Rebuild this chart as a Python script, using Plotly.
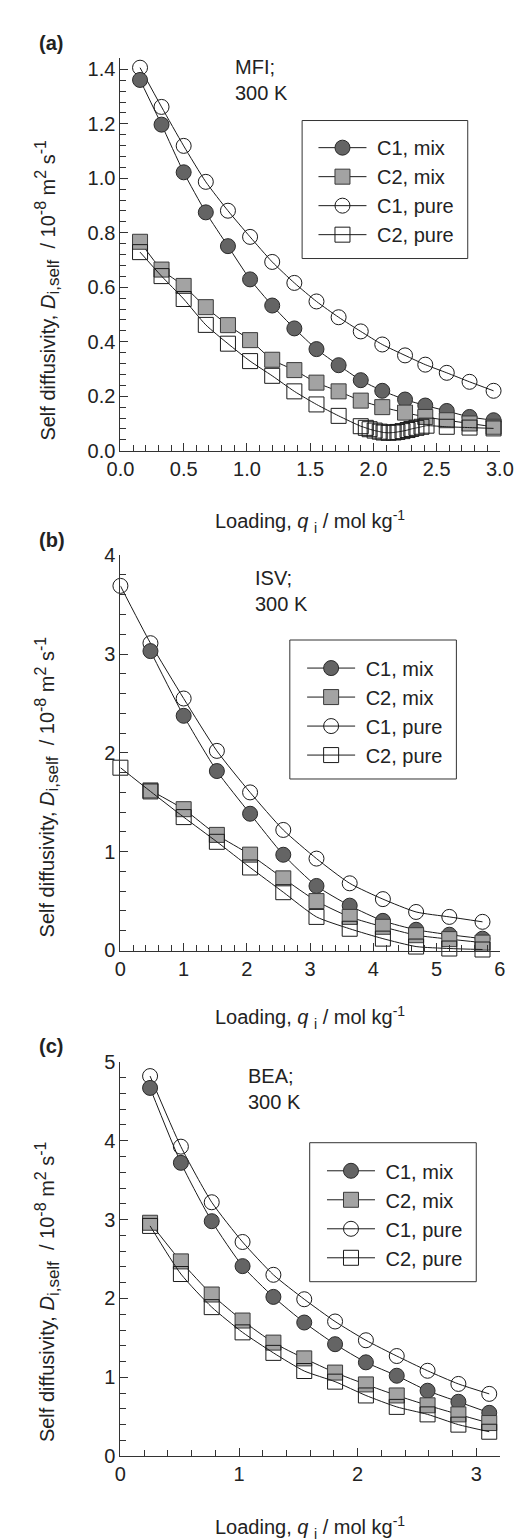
import plotly.graph_objects as go

W, H = 522, 1540

# ---------------- Panel (a) MFI ----------------
qa = [0.155, 0.325, 0.50, 0.675, 0.85, 1.025, 1.20, 1.375, 1.55, 1.725, 1.90, 2.07, 2.25, 2.41, 2.58, 2.76, 2.95]
a_c1_mix = [1.361, 1.197, 1.022, 0.875, 0.751, 0.629, 0.533, 0.449, 0.373, 0.314, 0.259, 0.220, 0.188, 0.166, 0.146, 0.124, 0.112]
a_c2_mix = [0.767, 0.665, 0.605, 0.527, 0.461, 0.406, 0.334, 0.296, 0.250, 0.218, 0.184, 0.160, 0.140, 0.124, 0.112, 0.100, 0.088]
a_c1_pure = [1.406, 1.262, 1.119, 0.987, 0.881, 0.785, 0.693, 0.616, 0.548, 0.490, 0.438, 0.390, 0.350, 0.316, 0.286, 0.253, 0.220]
qa_c2_pure = [0.155, 0.325, 0.50, 0.675, 0.85, 1.025, 1.20, 1.375, 1.55, 1.725,
              1.90, 1.94, 1.97, 2.01, 2.05, 2.08, 2.12, 2.16, 2.19, 2.23, 2.27, 2.30, 2.34, 2.38, 2.42,
              2.58, 2.76, 2.95]
a_c2_pure = [0.729, 0.641, 0.557, 0.462, 0.393, 0.329, 0.275, 0.218, 0.170, 0.128,
             0.090, 0.084, 0.079, 0.074, 0.070, 0.067, 0.066, 0.067, 0.069, 0.072, 0.076, 0.080, 0.084, 0.088, 0.092,
             0.088, 0.085, 0.082]

# ---------------- Panel (b) ISV ----------------
qb_pure = [0.0, 0.475, 1.0, 1.525, 2.05, 2.575, 3.1, 3.625, 4.15, 4.675, 5.2, 5.725]
qb_mix = [0.475, 1.0, 1.525, 2.05, 2.575, 3.1, 3.625, 4.15, 4.675, 5.2, 5.725]
b_c1_mix = [3.03, 2.375, 1.816, 1.384, 0.969, 0.653, 0.454, 0.300, 0.210, 0.160, 0.120]
b_c2_mix = [1.62, 1.43, 1.17, 0.97, 0.73, 0.50, 0.34, 0.24, 0.155, 0.115, 0.080]
b_c1_pure = [3.69, 3.11, 2.55, 2.02, 1.60, 1.22, 0.93, 0.68, 0.52, 0.39, 0.34, 0.29]
b_c2_pure = [1.85, 1.61, 1.35, 1.10, 0.84, 0.59, 0.34, 0.22, 0.12, 0.04, 0.02, 0.01]

# ---------------- Panel (c) BEA ----------------
qc = [0.25, 0.51, 0.77, 1.03, 1.29, 1.55, 1.81, 2.07, 2.33, 2.59, 2.85, 3.11]
c_c1_mix = [4.67, 3.72, 2.98, 2.41, 2.02, 1.695, 1.42, 1.19, 1.02, 0.83, 0.69, 0.55]
c_c2_mix = [2.96, 2.47, 2.05, 1.72, 1.44, 1.24, 1.06, 0.91, 0.77, 0.645, 0.53, 0.42]
c_c1_pure = [4.82, 3.925, 3.22, 2.716, 2.30, 1.99, 1.708, 1.47, 1.27, 1.083, 0.916, 0.79]
c_c2_pure = [2.92, 2.31, 1.89, 1.57, 1.31, 1.08, 0.945, 0.77, 0.625, 0.53, 0.40, 0.31]

names = ["C1, mix", "C2, mix", "C1, pure", "C2, pure"]
FONT = "Arial, Liberation Sans, Helvetica, sans-serif"
FS = 20
INK = "#222222"


def px(x):
    return x / W


def py(y):
    return 1 - y / H


def style(kind):
    if kind == "c1_mix":
        return dict(symbol="circle", size=15, color="#646464", line=dict(color="#2a2a2a", width=1))
    if kind == "c2_mix":
        return dict(symbol="square", size=15, color="#a3a3a3", line=dict(color="#3a3a3a", width=1))
    if kind == "c1_pure":
        return dict(symbol="circle-open", size=15, color="#1a1a1a", line=dict(color="#1a1a1a", width=1))
    return dict(symbol="square-open", size=15, color="#1a1a1a", line=dict(color="#1a1a1a", width=1))


fig = go.Figure()

panels = [
    ("x", "y", "legend", [
        ("c1_pure", qa, a_c1_pure, 3),
        ("c1_mix", qa, a_c1_mix, 1),
        ("c2_mix", qa, a_c2_mix, 2),
        ("c2_pure", qa_c2_pure, a_c2_pure, 4),
    ]),
    ("x2", "y2", "legend2", [
        ("c1_pure", qb_pure, b_c1_pure, 3),
        ("c1_mix", qb_mix, b_c1_mix, 1),
        ("c2_mix", qb_mix, b_c2_mix, 2),
        ("c2_pure", qb_pure, b_c2_pure, 4),
    ]),
    ("x3", "y3", "legend3", [
        ("c1_pure", qc, c_c1_pure, 3),
        ("c1_mix", qc, c_c1_mix, 1),
        ("c2_mix", qc, c_c2_mix, 2),
        ("c2_pure", qc, c_c2_pure, 4),
    ]),
]

for xa, ya, leg, series in panels:
    for kind, xs, ys, rank in series:
        fig.add_trace(go.Scatter(
            x=xs, y=ys, mode="lines+markers", name="\u00a0" + names[rank - 1],
            xaxis=xa, yaxis=ya, legend=leg, legendrank=rank,
            line=dict(color="#1a1a1a", width=1, shape="spline", smoothing=0.6),
            marker=style(kind), cliponaxis=False, showlegend=True,
        ))

xdom = [px(104), px(505)]
axcommon = dict(showline=True, linecolor="#333333", linewidth=1, showgrid=False, zeroline=False,
                ticks="inside", ticklen=8, tickwidth=1, tickcolor="#333333",
                tickfont=dict(family=FONT, size=FS, color=INK))
mn = dict(ticks="inside", ticklen=6, tickcolor="#333333")

ydoms = [[py(438), py(40)], [py(945), py(544)], [py(1458), py(1058)]]

layout = dict(
    width=W, height=H, autosize=False,
    margin=dict(l=0, r=0, t=0, b=0),
    paper_bgcolor="white", plot_bgcolor="white",
    font=dict(family=FONT, size=FS, color=INK),
    xaxis=dict(domain=xdom, anchor="y", range=[0, 3.0001], dtick=0.5, tickformat=".1f",
               minor=dict(dtick=0.1, **mn), **axcommon),
    yaxis=dict(domain=ydoms[0], anchor="x", range=[0, 1.44], dtick=0.2, tickformat=".1f",
               minor=dict(dtick=0.04, **mn), **axcommon),
    xaxis2=dict(domain=xdom, anchor="y2", range=[0, 6.0001], dtick=1,
                minor=dict(dtick=0.2, **mn), **axcommon),
    yaxis2=dict(domain=ydoms[1], anchor="x2", range=[0, 4.0001], dtick=1,
                minor=dict(dtick=0.2, **mn), **axcommon),
    xaxis3=dict(domain=xdom, anchor="y3", range=[0, 3.2], dtick=1,
                minor=dict(dtick=0.2, **mn), **axcommon),
    yaxis3=dict(domain=ydoms[2], anchor="x3", range=[0, 5.0001], dtick=1,
                minor=dict(dtick=0.2, **mn), **axcommon),
)

# legend frames (box) and legend entry origins
boxes = [(296, 103, 471, 243), (283, 630, 459, 771), (304, 1140, 480, 1281)]
entry_origin = [(308, 110.75), (296, 638.7), (317, 1148.7)]
shapes = []
for i, ((x0, y0, x1, y1), (lx, ly)) in enumerate(zip(boxes, entry_origin)):
    shapes.append(dict(type="rect", xref="paper", yref="paper", x0=px(x0), x1=px(x1), y0=py(y1), y1=py(y0),
                       line=dict(color="#333333", width=1), fillcolor="white", layer="above"))
    key = "legend" if i == 0 else f"legend{i + 1}"
    layout[key] = dict(x=px(lx), y=py(ly), xanchor="left", yanchor="top",
                       bgcolor="rgba(0,0,0,0)", borderwidth=0,
                       font=dict(family=FONT, size=FS, color=INK),
                       itemwidth=48, tracegroupgap=0)
layout["shapes"] = shapes

fig.update_layout(**layout)

ann = []
# panel labels
for lab, yc in [("(a)", 24), ("(b)", 529), ("(c)", 1042)]:
    ann.append(dict(text=f"<b>{lab}</b>", x=px(16), y=py(yc), xref="paper", yref="paper",
                    xanchor="left", yanchor="middle", showarrow=False, font=dict(size=FS)))
# zeolite labels
for lab, xl, yc in [("MFI;<br>300 K", 223, 62), ("ISV;<br>300 K", 244, 580), ("BEA;<br>300 K", 237, 1085)]:
    ann.append(dict(text=lab, x=px(xl), y=py(yc), xref="paper", yref="paper", align="left",
                    xanchor="left", yanchor="middle", showarrow=False, font=dict(size=FS)))
# x titles
xt = "Loading, <i>q</i> <sub>i</sub> / mol kg<sup>-1</sup>"
for yc in [510, 1013, 1530]:
    ann.append(dict(text=xt, x=px(304), y=py(yc), xref="paper", yref="paper",
                    xanchor="center", yanchor="middle", showarrow=False, font=dict(size=FS)))
# y titles
yt = ("Self diffusivity, <i>D</i><sub><span style='font-size:17px'>i,self</span></sub>"
      "\u00a0 / 10<sup><span style='font-size:16px'>-8</span></sup>"
      " m<sup><span style='font-size:16px'>2</span></sup>"
      " s<sup><span style='font-size:16px'>-1</span></sup>")
for yc in [275, 779, 1291]:
    ann.append(dict(text=yt, x=px(27), y=py(yc), xref="paper", yref="paper", textangle=-90,
                    xanchor="center", yanchor="middle", showarrow=False, font=dict(size=FS)))
fig.update_layout(annotations=ann)

fig.write_html("out.html")
